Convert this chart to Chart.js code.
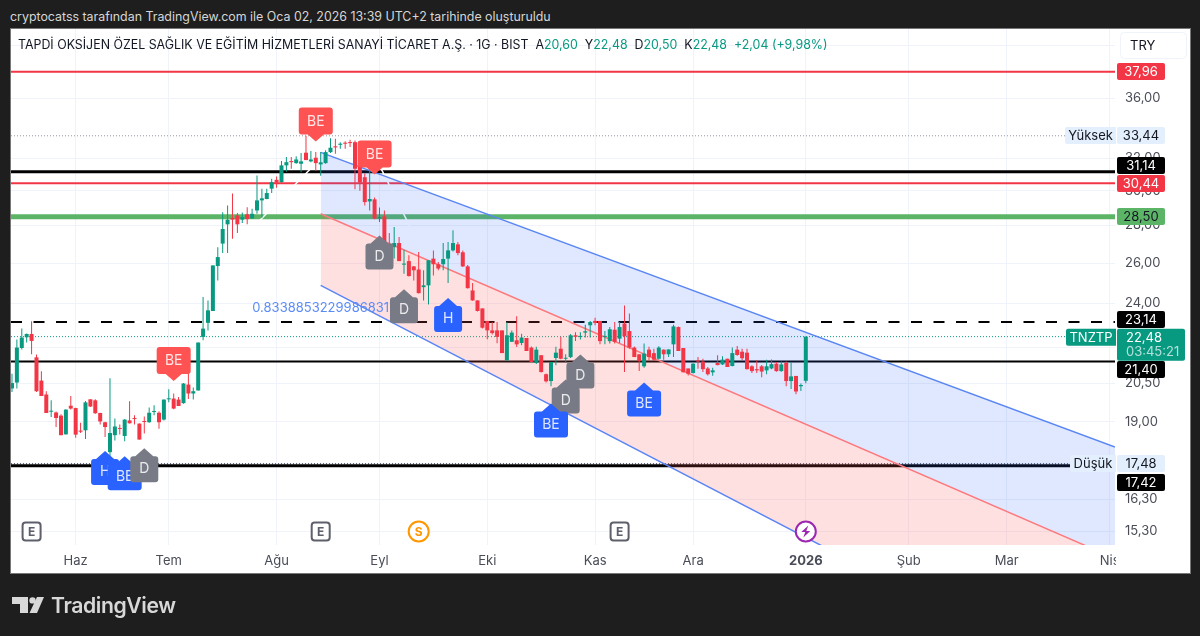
<!DOCTYPE html>
<html lang="tr">
<head>
<meta charset="utf-8">
<title>TNZTP</title>
<script src="https://cdn.jsdelivr.net/npm/chart.js@4"></script>
<style>
  html, body { margin: 0; padding: 0; background: #1e1e1e; overflow: hidden; }
  body { width: 1200px; height: 636px; position: relative; font-family: Inter, Roboto, sans-serif; }
  #caption { position: absolute; left: 10px; top: 8px; color: #d6d6d6; font-size: 12.4px; line-height: 17px; white-space: nowrap; }
  #panel { position: absolute; left: 11px; top: 29px; width: 1179px; height: 544px; background: #fff; box-shadow: 0 0 0 1px #777; }
  #chart { position: absolute; left: 0; top: 0; }
  #title { position: absolute; left: 18px; top: 36px; color: #131722; font-size: 12.4px; line-height: 17px; white-space: nowrap; }
  #title b { font-weight: 400; color: #089981; }
  #logo { position: absolute; left: 12px; top: 592px; color: #d8d8d8; }
  #logo svg { position: absolute; left: 0; top: 5px; }
  #logo span { position: absolute; left: 39px; top: 0; font-size: 21.2px; line-height: 26px; font-weight: 600; letter-spacing: -0.4px; }
</style>
</head>
<body>
<div id="caption">cryptocatss tarafından TradingView.com ile Oca 02, 2026 13:39 UTC+2 tarihinde oluşturuldu</div>
<div id="panel"></div>
<canvas id="chart" width="1200" height="636"></canvas>
<div id="title">TAPDİ OKSİJEN ÖZEL SAĞLIK VE EĞİTİM HİZMETLERİ SANAYİ TİCARET A.Ş. · 1G · BIST &nbsp;A<b>20,60</b> &nbsp;Y<b>22,48</b> &nbsp;D<b>20,50</b> &nbsp;K<b>22,48</b> &nbsp;<b>+2,04 (+9,98%)</b></div>
<div id="logo">
  <svg width="32" height="16" viewBox="0 0 32 16" fill="#d8d8d8">
    <path d="M0 0h16v16H8V7H0z"/><circle cx="20.5" cy="3.4" r="3.2"/><path d="M25 0h7l-7 16h-7.500z"/>
  </svg>
  <span>TradingView</span>
</div>
<script>
'use strict';

// daily bars, oldest first
const opens = [20.29, 20.53, 21.98, 22.45, 22.60, 21.58, 20.61, 20.05, 19.38, 19.35,
  19.23, 18.53, 19.61, 19.52, 18.67, 18.68, 19.86, 19.82, 19.33, 18.98,
  17.89, 18.50, 18.75, 18.47, 19.05, 19.13, 18.93, 19.01, 18.98, 19.37,
  19.34, 19.08, 19.86, 19.89, 19.85, 19.71, 20.45, 20.09, 20.21, 22.47,
  23.10, 23.65, 25.85, 27.02, 28.07, 28.42, 28.57, 28.33, 28.63, 28.40,
  28.85, 29.43, 29.51, 30.12, 30.65, 30.51, 31.54, 31.81, 31.68, 31.64,
  32.34, 31.79, 32.02, 31.60, 31.68, 32.38, 32.75, 32.85, 32.96, 33.02,
  33.02, 31.54, 30.81, 29.37, 29.49, 28.40, 28.51, 26.92, 26.83, 27.05,
  25.92, 26.10, 25.83, 25.67, 24.79, 24.88, 26.23, 25.94, 25.94, 26.23,
  26.66, 26.98, 26.56, 25.83, 24.63, 24.15, 23.77, 23.19, 22.76, 22.76,
  22.76, 21.45, 22.25, 22.32, 22.20, 22.42, 22.00, 21.34, 21.67, 20.87,
  20.59, 21.55, 21.95, 21.52, 21.59, 22.54, 22.47, 22.66, 22.99, 23.19,
  23.19, 22.47, 22.28, 22.79, 22.39, 23.07, 22.73, 22.00, 21.71, 21.20,
  21.91, 21.76, 21.52, 21.91, 21.71, 22.14, 22.91, 21.98, 21.11, 20.92,
  21.45, 21.40, 21.11, 20.95, 21.34, 21.28, 21.52, 21.21, 21.91, 21.82,
  21.78, 21.20, 21.08, 21.20, 21.03, 21.11, 21.31, 21.00, 21.34, 20.59,
  20.80, 20.38, 20.60];
const highs = [20.89, 22.35, 22.84, 22.62, 23.17, 21.70, 20.99, 20.18, 19.82, 19.39,
  19.28, 19.47, 19.99, 19.53, 18.96, 19.79, 19.86, 19.86, 19.34, 19.00,
  20.70, 19.12, 18.90, 19.09, 19.78, 19.24, 18.93, 19.20, 19.54, 19.63,
  19.40, 19.85, 20.26, 20.09, 19.95, 20.51, 20.92, 20.33, 22.22, 24.31,
  24.15, 25.88, 26.83, 28.75, 29.14, 29.83, 28.70, 28.74, 29.04, 28.95,
  30.92, 30.12, 30.12, 30.72, 30.86, 31.81, 32.06, 32.06, 32.11, 32.32,
  33.44, 32.45, 32.38, 32.38, 32.49, 33.28, 33.24, 33.02, 33.08, 33.18,
  33.13, 31.85, 31.04, 31.54, 29.60, 29.02, 28.85, 27.59, 27.92, 27.37,
  26.70, 26.40, 25.85, 26.57, 25.63, 26.14, 26.66, 26.05, 27.05, 27.10,
  27.74, 27.10, 26.66, 25.90, 24.99, 24.15, 23.77, 23.19, 23.14, 23.14,
  22.76, 23.14, 22.76, 23.40, 22.61, 22.42, 22.05, 22.03, 21.67, 20.90,
  21.38, 22.03, 22.47, 21.71, 22.60, 22.68, 22.68, 23.02, 23.19, 23.34,
  23.19, 22.73, 22.91, 23.14, 23.14, 23.91, 23.53, 22.05, 21.71, 22.18,
  22.03, 21.95, 22.06, 21.92, 21.92, 23.02, 22.94, 21.98, 21.11, 21.33,
  21.59, 21.52, 21.17, 21.14, 21.67, 21.62, 21.52, 22.00, 22.07, 21.95,
  21.95, 21.24, 21.45, 21.25, 21.48, 21.49, 21.38, 21.40, 21.40, 21.37,
  20.80, 20.49, 22.48];
const lows = [20.15, 20.29, 21.92, 22.22, 21.71, 20.15, 19.99, 19.33, 19.18, 18.80,
  18.50, 18.53, 19.46, 18.41, 18.58, 18.36, 19.56, 19.30, 18.90, 18.43,
  17.48, 18.31, 18.53, 18.28, 18.93, 18.90, 18.34, 18.56, 18.96, 19.24,
  18.74, 19.05, 19.75, 19.47, 19.60, 19.69, 19.87, 19.85, 20.21, 22.32,
  22.76, 23.65, 25.12, 26.52, 26.52, 27.28, 27.59, 28.14, 28.07, 28.40,
  28.66, 28.44, 29.49, 29.86, 30.18, 30.47, 31.15, 31.33, 31.64, 31.12,
  31.87, 31.74, 31.19, 30.90, 31.64, 32.32, 32.28, 32.60, 32.60, 32.70,
  30.08, 29.99, 29.14, 28.85, 28.35, 28.20, 26.83, 26.05, 26.23, 26.10,
  25.46, 25.32, 25.12, 24.48, 24.15, 23.96, 25.37, 25.63, 25.63, 24.99,
  26.60, 26.40, 25.80, 24.72, 24.13, 23.62, 22.85, 22.36, 22.58, 22.19,
  21.76, 21.45, 22.25, 22.02, 22.10, 21.85, 21.38, 21.30, 20.94, 20.53,
  20.38, 21.24, 21.50, 21.34, 21.55, 22.29, 22.35, 22.44, 22.44, 22.99,
  22.14, 22.14, 22.18, 22.18, 22.20, 20.96, 21.95, 21.59, 21.00, 21.14,
  21.45, 21.42, 21.49, 21.48, 21.59, 21.59, 21.85, 20.95, 20.82, 20.90,
  21.10, 20.96, 20.82, 20.81, 21.24, 21.25, 21.17, 21.20, 21.65, 21.45,
  21.07, 20.92, 20.92, 20.75, 20.87, 21.08, 20.97, 20.97, 20.38, 20.27,
  20.06, 20.19, 20.50];
const closes = [20.51, 22.00, 22.44, 22.60, 22.29, 20.18, 19.99, 19.33, 19.40, 19.14,
  18.50, 19.46, 19.50, 18.52, 18.63, 19.74, 19.58, 19.32, 19.01, 18.80,
  18.58, 18.82, 18.73, 19.08, 18.94, 19.10, 18.34, 18.99, 19.34, 19.39,
  18.98, 19.85, 19.89, 19.50, 19.60, 20.49, 20.09, 20.18, 22.22, 22.84,
  23.68, 25.88, 26.31, 27.81, 28.33, 28.33, 28.07, 28.47, 28.36, 28.66,
  29.43, 29.55, 29.86, 30.51, 30.49, 31.54, 31.74, 31.74, 31.91, 31.79,
  31.87, 31.91, 31.68, 31.73, 32.38, 32.66, 32.68, 32.92, 32.92, 32.96,
  31.33, 30.49, 29.33, 29.51, 28.40, 28.47, 26.87, 26.70, 27.05, 26.10,
  25.97, 25.34, 25.63, 24.50, 24.88, 26.14, 25.94, 25.72, 26.21, 26.66,
  27.05, 26.52, 25.83, 24.74, 24.15, 23.65, 22.88, 22.76, 22.64, 22.47,
  21.76, 22.54, 22.66, 22.14, 22.44, 21.85, 21.38, 21.91, 20.96, 20.58,
  21.38, 21.78, 21.52, 21.56, 22.54, 22.47, 22.51, 22.72, 23.14, 23.10,
  22.28, 22.51, 22.81, 22.25, 22.91, 22.50, 22.00, 21.59, 21.42, 21.74,
  21.59, 21.48, 22.00, 21.71, 21.92, 22.94, 21.85, 20.95, 20.89, 21.31,
  21.40, 21.08, 20.87, 21.03, 21.25, 21.48, 21.17, 21.76, 21.68, 21.54,
  21.08, 21.00, 21.03, 20.98, 21.20, 21.29, 21.00, 21.28, 20.59, 20.78,
  20.17, 20.43, 22.48];

const priceTicks = [40, 36, 32, 30, 28, 26, 24, 22, 20.5, 19, 17.5, 16.3, 15.3];
const monthBars = [13, 32, 54, 75, 97, 119, 139, 162, 183, 203, 224];
const monthLabels = ['Haz', 'Tem', 'Ağu', 'Eyl', 'Eki', 'Kas', 'Ara', '2026', 'Şub', 'Mar', 'Nis'];

// horizontal levels drawn on the chart
const levelPrices = [37.96, 31.14, 30.44, 28.50, 23.14, 21.40, 17.42];
const dottedPrices = [33.44, 22.48, 17.48];

// regression channel, prices at its left end and at the right edge
const channelBars = [63, 225.1];
const channelTop = [32.36, 18.07];
const channelMid = [28.66, 14.50];
const channelBottom = [24.88, 11.00];

// thin white drawing, only seen where it crosses the levels
const traceBars = [[50, 62], [75, 82]];
const tracePrices = [[28.13, 31.66], [31.54, 27.52]];

const signalBars = [62, 74, 33, 19, 23, 27, 75, 80, 89, 116, 113, 110, 129];
const signalPrices = [33.07, 30.98, 20.59, 17.93, 17.75, 18.03, 27.45, 24.69, 24.26, 21.70, 20.65, 19.70, 20.53];
const signalTexts = ['BE', 'BE', 'BE', 'H', 'BE', 'D', 'D', 'D', 'H', 'D', 'D', 'BE', 'BE'];
const signalKinds = ['sell', 'sell', 'sell', 'buy', 'buy', 'neutral', 'neutral', 'neutral', 'buy', 'neutral', 'neutral', 'buy', 'buy'];

const eventBars = [4, 63, 124, 83, 162];
const eventKinds = ['E', 'E', 'E', 'S', 'bolt'];

const xMin = -0.2;
const xMax = 225.1;
const yMin = 14.89;
const yMax = 41.30;

const GREEN = '#089981';
const RED = '#f23645';

function tr( value ) {
  return value.toFixed( 2 ).replace( '.', ',' );
}

function lineSet( bars, values, extra ) {
  return Object.assign( {
    type: 'line',
    data: bars.map( ( bar, i ) => ( { x: bar, y: values[i] } ) ),
    pointRadius: 0,
    tension: 0,
    fill: false,
    clip: 0
  }, extra );
}

let datasets = [];

const candleColors = closes.map( ( close, i ) => close >= opens[i] ? GREEN : RED );

datasets.push( {
  type: 'bar',
  order: 1,
  grouped: false,
  barThickness: 4,
  minBarLength: 1,
  inflateAmount: 0,
  data: closes.map( ( close, i ) => ( { x: i, y: [opens[i], close] } ) ),
  backgroundColor: candleColors
} );

datasets.push( {
  type: 'bar',
  order: 2,
  grouped: false,
  barThickness: 1,
  inflateAmount: 0,
  data: closes.map( ( close, i ) => ( { x: i, y: [lows[i], highs[i]] } ) ),
  backgroundColor: candleColors
} );

// the two fills run from each line to the next dataset
datasets.push( lineSet( channelBars, channelTop, {
  order: 5, borderColor: '#5a86f3', borderWidth: 1.5, fill: '+1', backgroundColor: 'rgba(41,98,255,0.15)'
} ) );
datasets.push( lineSet( channelBars, channelMid, {
  order: 4, borderColor: '#fa7b7f', borderWidth: 1.5, fill: '+1', backgroundColor: 'rgba(255,82,82,0.18)'
} ) );
datasets.push( lineSet( channelBars, channelBottom, {
  order: 3, borderColor: '#5a86f3', borderWidth: 1.5
} ) );

traceBars.forEach( ( bars, i ) => {
  datasets.push( lineSet( bars, tracePrices[i], { order: 6 + i, borderColor: '#ffffff', borderWidth: 1.5 } ) );
} );

const levelStyles = [
  { color: RED, width: 2 },
  { color: '#000000', width: 3 },
  { color: RED, width: 2 },
  { color: '#5cb566', width: 5 },
  { color: '#000000', width: 2, dash: [11, 11.500] },
  { color: '#000000', width: 2 },
  { color: '#000000', width: 3 }
];
levelPrices.forEach( ( price, i ) => {
  datasets.push( lineSet( [xMin, xMax], [price, price], {
    order: 10 + i,
    borderColor: levelStyles[i].color,
    borderWidth: levelStyles[i].width,
    borderDash: levelStyles[i].dash || []
  } ) );
} );

const dottedColors = ['#9598a1', GREEN, '#131722'];
dottedPrices.forEach( ( price, i ) => {
  datasets.push( lineSet( [xMin, xMax], [price, price], {
    order: 20 + i, borderColor: dottedColors[i], borderWidth: 1, borderDash: [1, 2]
  } ) );
} );

function pathTag( ctx, x, y, w, h, r ) {
  ctx.beginPath();
  ctx.roundRect( x, y, w, h, r );
}

function drawSignal( ctx, px, py, text, kind ) {
  const w = text === 'BE' ? 34 : 28;
  const left = px - w / 2;
  const right = px + w / 2;
  ctx.beginPath();
  if ( kind === 'sell' ) {
    // tip points down at the bar
    const bottom = py - 7;
    const top = bottom - 27;
    ctx.moveTo( left + 3, top );
    ctx.arcTo( right, top, right, bottom, 3 );
    ctx.arcTo( right, bottom, px, bottom, 3 );
    ctx.lineTo( px + 8, bottom );
    ctx.lineTo( px, py );
    ctx.lineTo( px - 8, bottom );
    ctx.arcTo( left, bottom, left, top, 3 );
    ctx.arcTo( left, top, px, top, 3 );
  } else {
    const shoulder = py + 8;
    const bottom = py + 34;
    ctx.moveTo( px, py );
    ctx.lineTo( px + 9, shoulder );
    ctx.arcTo( right, shoulder, right, bottom, 3 );
    ctx.arcTo( right, bottom, left, bottom, 3 );
    ctx.arcTo( left, bottom, left, shoulder, 3 );
    ctx.arcTo( left, shoulder, px, shoulder, 3 );
    ctx.lineTo( px - 9, shoulder );
  }
  ctx.closePath();
  ctx.fillStyle = kind === 'sell' ? '#ff5252' : kind === 'buy' ? '#2962ff' : '#787b86';
  ctx.fill();
  ctx.fillStyle = 'rgba(255,255,255,0.85)';
  ctx.font = '14px Inter, sans-serif';
  ctx.textAlign = 'center';
  ctx.textBaseline = 'middle';
  ctx.fillText( text, px, kind === 'sell' ? py - 20 : py + 21 );
}

function drawEvent( ctx, px, py, kind ) {
  ctx.lineWidth = 2;
  ctx.textAlign = 'center';
  ctx.textBaseline = 'middle';
  ctx.font = '700 12px Inter, sans-serif';
  if ( kind === 'E' ) {
    pathTag( ctx, px - 9, py - 9, 18, 18, 3 );
    ctx.fillStyle = '#ffffff';
    ctx.fill();
    ctx.strokeStyle = '#5d606b';
    ctx.stroke();
    ctx.fillStyle = '#5d606b';
    ctx.fillText( 'E', px, py + 0.5 );
    return;
  }
  ctx.beginPath();
  ctx.arc( px, py, 10, 0, Math.PI * 2 );
  ctx.fillStyle = '#ffffff';
  ctx.fill();
  if ( kind === 'S' ) {
    ctx.strokeStyle = '#ff9800';
    ctx.stroke();
    ctx.fillStyle = '#ff9800';
    ctx.fillText( 'S', px, py + 0.5 );
  } else {
    ctx.strokeStyle = '#9c27b0';
    ctx.stroke();
    ctx.beginPath();
    ctx.moveTo( px + 2.5, py - 6 );
    ctx.lineTo( px - 4.5, py + 0.5 );
    ctx.lineTo( px - 0.5, py + 0.5 );
    ctx.lineTo( px - 2.5, py + 6 );
    ctx.lineTo( px + 4.5, py - 0.5 );
    ctx.lineTo( px + 0.5, py - 0.5 );
    ctx.closePath();
    ctx.fillStyle = '#9c27b0';
    ctx.fill();
  }
}

// price tags on the right scale; dy moves a tag off its neighbour
const priceTags = [
  { value: 37.96, bg: RED, fg: '#ffffff', dy: 0 },
  { value: 33.44, bg: '#e3effd', fg: '#131722', dy: 0, side: 'Yüksek' },
  { value: 31.14, bg: '#000000', fg: '#ffffff', dy: -6 },
  { value: 30.44, bg: RED, fg: '#ffffff', dy: 0 },
  { value: 28.50, bg: '#5cb566', fg: '#131722', dy: 0 },
  { value: 23.14, bg: '#000000', fg: '#ffffff', dy: -3 },
  { value: 21.40, bg: '#000000', fg: '#ffffff', dy: 8 },
  { value: 17.48, bg: '#e3effd', fg: '#131722', dy: 0, side: 'Düşük' },
  { value: 17.42, bg: '#000000', fg: '#ffffff', dy: 17 }
];

function drawPriceTag( ctx, y, tag ) {
  const top = Math.round( y - 8.5 );
  ctx.textBaseline = 'middle';
  ctx.font = '13px Inter, sans-serif';
  if ( tag.side ) {
    const sideWidth = tag.side === 'Yüksek' ? 51 : 46;
    pathTag( ctx, 1116 - sideWidth, top, sideWidth, 17, [2, 0, 0, 2] );
    ctx.fillStyle = tag.bg;
    ctx.fill();
    ctx.fillStyle = tag.fg;
    ctx.textAlign = 'center';
    ctx.fillText( tag.side, 1116 - sideWidth / 2, top + 9 );
  }
  pathTag( ctx, 1117, top, 48, 17, 2 );
  ctx.fillStyle = tag.bg;
  ctx.fill();
  ctx.fillStyle = tag.fg;
  ctx.textAlign = 'center';
  ctx.fillText( tr( tag.value ), 1141, top + 9 );
}

const overlayPlugin = {
  id: 'overlays',
  afterDraw( chart ) {
    const ctx = chart.ctx;
    const x = chart.scales.x;
    const y = chart.scales.y;
    ctx.save();

    // clipped end of the time axis
    ctx.fillStyle = '#ffffff';
    ctx.fillRect( 1116, 546, 70, 26 );

    ctx.fillStyle = '#5b8bf6';
    ctx.font = '13px Inter, sans-serif';
    ctx.textAlign = 'center';
    ctx.textBaseline = 'middle';
    ctx.fillText( '0.8338853229986831', x.getPixelForValue( 63 ), y.getPixelForValue( 23.77 ) );

    signalBars.forEach( ( bar, i ) => {
      drawSignal( ctx, x.getPixelForValue( bar ), y.getPixelForValue( signalPrices[i] ), signalTexts[i], signalKinds[i] );
    } );

    eventBars.forEach( ( bar, i ) => {
      drawEvent( ctx, x.getPixelForValue( bar ), chart.chartArea.bottom - 13.500, eventKinds[i] );
    } );

    priceTags.forEach( tag => {
      drawPriceTag( ctx, y.getPixelForValue( tag.value ) + tag.dy, tag );
    } );

    // last price with the countdown, and its ticker chip
    const lastY = y.getPixelForValue( closes[closes.length - 1] );
    pathTag( ctx, 1066, lastY - 8, 50, 17, [2, 0, 0, 2] );
    ctx.fillStyle = GREEN;
    ctx.fill();
    ctx.fillStyle = '#ffffff';
    ctx.textAlign = 'center';
    ctx.fillText( 'TNZTP', 1091, lastY + 1 );
    pathTag( ctx, 1117, lastY - 8, 68, 32, 2 );
    ctx.fillStyle = GREEN;
    ctx.fill();
    ctx.fillStyle = '#ffffff';
    ctx.textAlign = 'left';
    ctx.fillText( tr( closes[closes.length - 1] ), 1126, lastY + 1 );
    ctx.fillStyle = 'rgba(255,255,255,0.7)';
    ctx.fillText( '03:45:21', 1126, lastY + 15 );

    // currency button over the top of the scale
    pathTag( ctx, 1120.500, 32.500, 66, 26, 4 );
    ctx.fillStyle = '#ffffff';
    ctx.fill();
    ctx.strokeStyle = '#f0f3fa';
    ctx.lineWidth = 1;
    ctx.stroke();
    ctx.fillStyle = '#131722';
    ctx.fillText( 'TRY', 1130, 46 );

    ctx.restore();
  }
};

const chart = new Chart( document.getElementById( 'chart' ).getContext( '2d' ), {
  type: 'bar',
  data: { datasets: datasets },
  plugins: [overlayPlugin],
  options: {
    responsive: false,
    animation: false,
    events: [],
    devicePixelRatio: 1,
    layout: { padding: { left: 11, top: 29, right: 10, bottom: 63 } },
    plugins: { legend: { display: false }, tooltip: { enabled: false } },
    scales: {
      x: {
        type: 'linear',
        min: xMin,
        max: xMax,
        offset: false,
        grid: { color: '#f0f3fa', offset: false, drawTicks: false },
        border: { display: false },
        afterFit: axis => { axis.height = 28; },
        afterBuildTicks: axis => { axis.ticks = monthBars.map( bar => ( { value: bar } ) ); },
        ticks: {
          autoSkip: false,
          maxRotation: 0,
          padding: 8,
          color: '#4a4d57',
          font: ctx => ( {
            family: 'Inter, sans-serif',
            size: 13,
            weight: monthBars[ctx.index] === 162 ? '700' : '400'
          } ),
          callback: value => monthLabels[monthBars.indexOf( value )]
        }
      },
      y: {
        type: 'logarithmic',
        position: 'right',
        min: yMin,
        max: yMax,
        grid: { color: '#f0f3fa', drawTicks: false },
        border: { display: false },
        afterFit: axis => { axis.width = 75; },
        afterBuildTicks: axis => { axis.ticks = priceTicks.map( price => ( { value: price } ) ); },
        ticks: {
          autoSkip: false,
          padding: 10,
          color: '#4a4d57',
          font: { family: 'Inter, sans-serif', size: 13 },
          callback: value => tr( value )
        }
      }
    }
  }
} );
</script>
</body>
</html>
